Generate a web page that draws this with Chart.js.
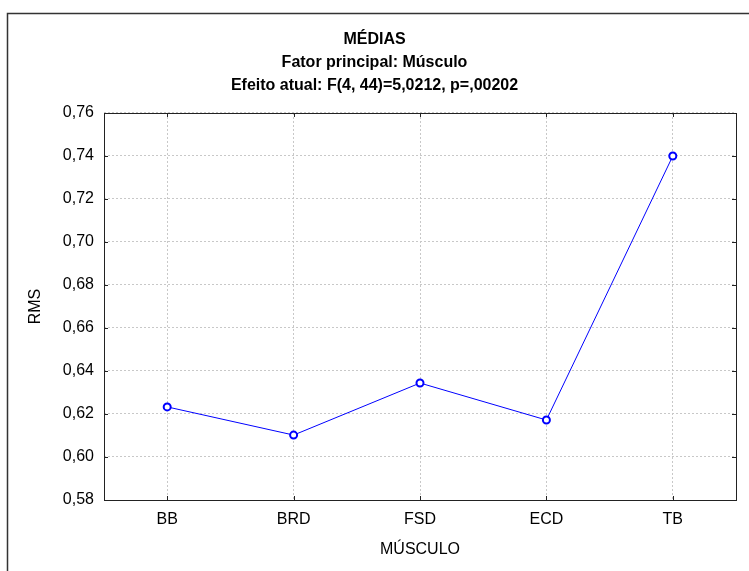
<!DOCTYPE html>
<html>
    <head>
        <title>MÉDIAS</title>
        <meta charset="utf-8" />
        <script src="https://cdn.jsdelivr.net/npm/chart.js@4.4.0/dist/chart.umd.min.js"></script>
        <style>
            * {
                margin: 0;
                padding: 0;
                box-sizing: border-box;
            }
            body {
                background-color: #ffffff;
            }
            #wrap {
                width: 749px;
                height: 571px;
            }
        </style>
    </head>
    <body>

        <div id="wrap">
            <canvas id="myChart" width="749" height="571"></canvas>
        </div>

        <script>
            const musculos = ['BB', 'BRD', 'FSD', 'ECD', 'TB'];
            const medias = [0.6233, 0.6102, 0.6344, 0.6172, 0.7400];
            const yTicks = [0.58, 0.60, 0.62, 0.64, 0.66, 0.68, 0.70, 0.72, 0.74, 0.76];
            const titleLines = ['MÉDIAS', 'Fator principal: Músculo', 'Efeito atual: F(4, 44)=5,0212, p=,00202'];

            const FONT = "'Liberation Sans', Arial, sans-serif";

            // outer frame + plot frame with inward ticks
            const frames = {
                id: 'frames',
                afterDraw(chart) {
                    const ctx = chart.ctx;
                    const a = chart.chartArea;
                    const x = chart.scales.x, y = chart.scales.y;
                    ctx.save();
                    ctx.strokeStyle = '#333333';
                    ctx.lineWidth = 1.5;
                    ctx.strokeRect(7.5, 13.5, 760, 580);

                    ctx.lineWidth = 1;
                    ctx.strokeStyle = '#222222';
                    ctx.strokeRect(Math.round(a.left) + 0.5, Math.round(a.top) + 0.5,
                        Math.round(a.right - a.left), Math.round(a.bottom - a.top));

                    ctx.beginPath();
                    yTicks.forEach(v => {
                        const py = Math.round(y.getPixelForValue(v)) + 0.5;
                        ctx.moveTo(a.left, py); ctx.lineTo(a.left + 4, py);
                        ctx.moveTo(a.right, py); ctx.lineTo(a.right - 4, py);
                    });
                    musculos.forEach((m, i) => {
                        const px = Math.round(x.getPixelForValue(i)) + 0.5;
                        ctx.moveTo(px, a.bottom); ctx.lineTo(px, a.bottom - 4);
                        ctx.moveTo(px, a.top); ctx.lineTo(px, a.top + 4);
                    });
                    ctx.stroke();
                    ctx.restore();
                }
            };

            const data = {
                labels: musculos,
                datasets: [{
                    data: medias,
                    borderColor: '#0000ff',
                    borderWidth: 1,
                    backgroundColor: '#ffffff',
                    pointRadius: 3.5,
                    pointBorderWidth: 2,
                    pointBorderColor: '#0000ff',
                    pointBackgroundColor: '#ffffff',
                    tension: 0
                }]
            };

            const chartConfig = {
                type: 'line',
                data,
                plugins: [frames],
                options: {
                    responsive: false,
                    animation: false,
                    layout: { padding: 0 },
                    plugins: {
                        legend: { display: false },
                        tooltip: { enabled: false },
                        title: {
                            display: true,
                            text: titleLines,
                            color: '#000000',
                            font: { family: FONT, size: 16, weight: 'bold', lineHeight: 1.46 },
                            padding: { top: 27.5, bottom: 15.4 }
                        }
                    },
                    scales: {
                        x: {
                            offset: true,
                            grid: {
                                offset: false,
                                color: '#c8c8c8',
                                drawTicks: false
                            },
                            border: { display: false, dash: [2, 2] },
                            ticks: {
                                color: '#000000',
                                padding: 10,
                                font: { family: FONT, size: 16 }
                            },
                            title: {
                                display: true,
                                text: 'MÚSCULO',
                                color: '#000000',
                                font: { family: FONT, size: 16 },
                                padding: { top: 4, bottom: 12 }
                            },
                            afterFit(scale) { scale.height = 71; }
                        },
                        y: {
                            min: 0.58,
                            max: 0.76,
                            grid: {
                                color: '#c8c8c8',
                                drawTicks: false
                            },
                            border: { display: false, dash: [2, 2] },
                            ticks: {
                                stepSize: 0.02,
                                color: '#000000',
                                padding: 10,
                                font: { family: FONT, size: 16 },
                                callback: v => v.toFixed(2).replace('.', ',')
                            },
                            afterBuildTicks(scale) {
                                scale.ticks = yTicks.map(v => ({ value: v }));
                            },
                            title: {
                                display: true,
                                text: 'RMS',
                                color: '#000000',
                                font: { family: FONT, size: 16 },
                                padding: { top: 26, bottom: 0 }
                            },
                            afterFit(scale) { scale.width = 104; }
                        },
                        // empty right axis, only keeps the margin on the right
                        yRight: {
                            position: 'right',
                            min: 0.58,
                            max: 0.76,
                            grid: { display: false },
                            border: { display: false },
                            ticks: { display: false },
                            afterFit(scale) { scale.width = 13; }
                        }
                    }
                }
            };

            new Chart(document.getElementById('myChart'), chartConfig);
        </script>
    </body>
</html>
